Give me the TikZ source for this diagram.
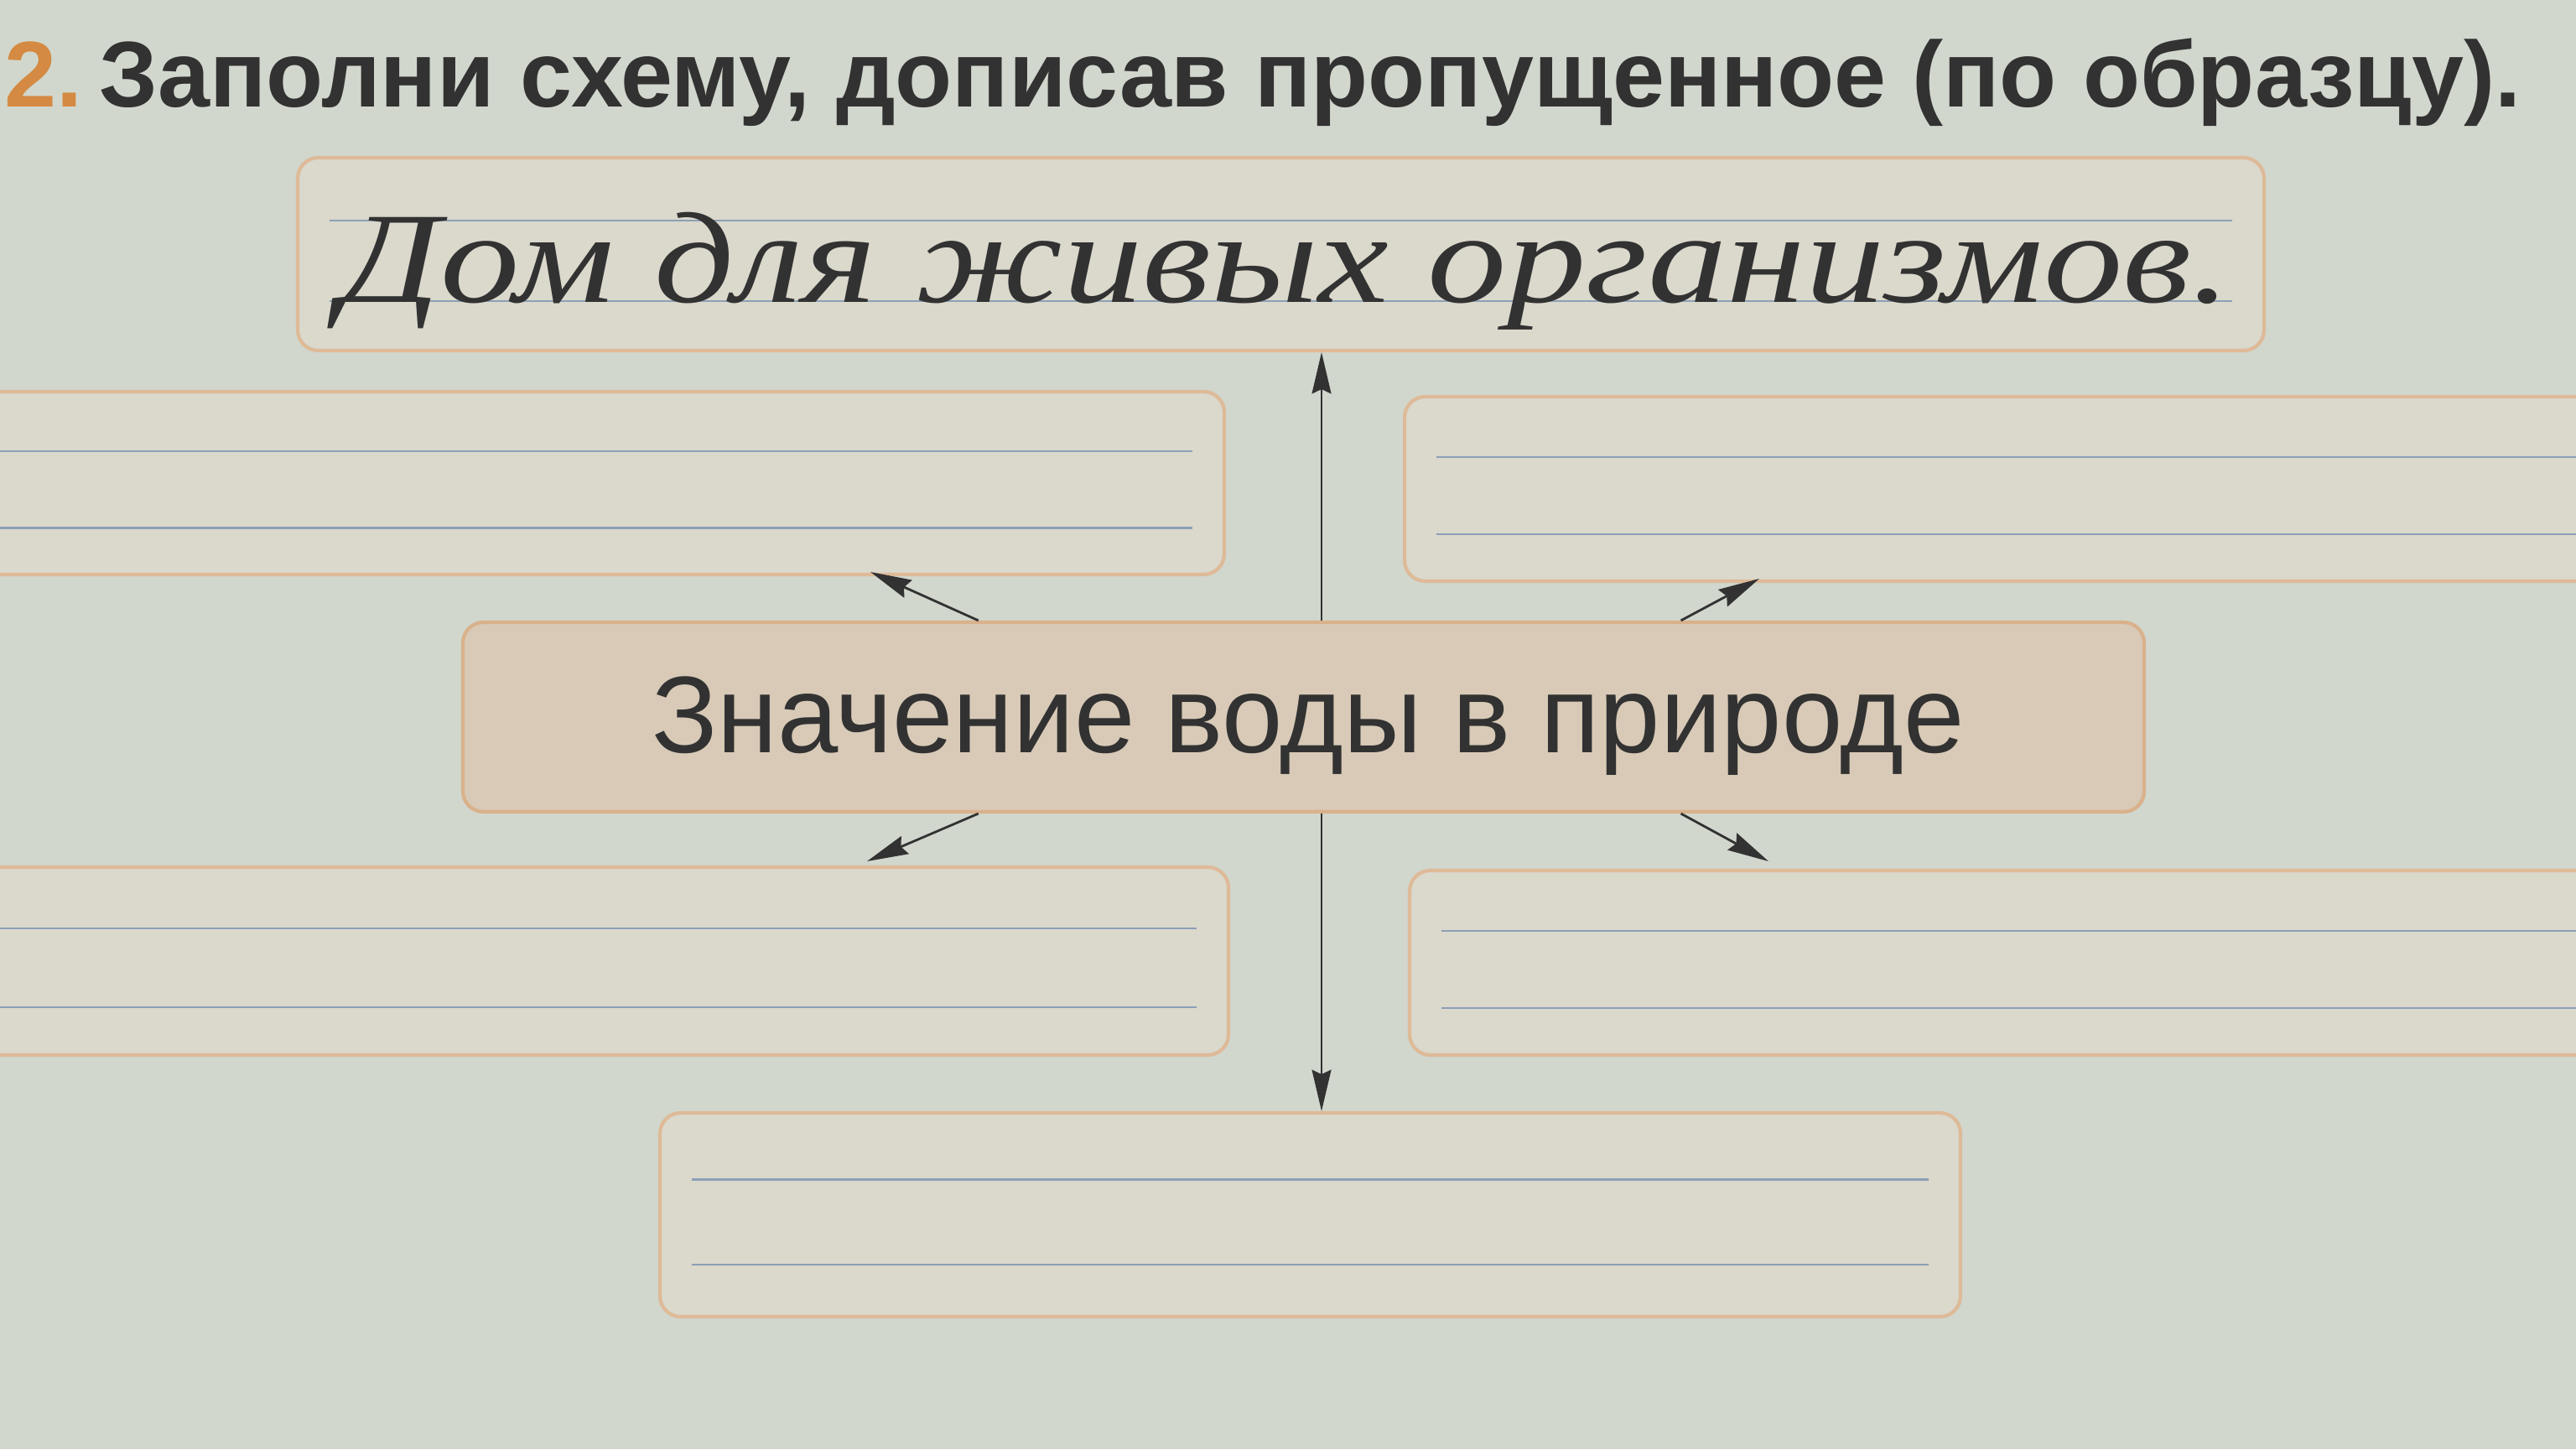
\documentclass[tikz,border=0pt]{standalone}
\usepackage{fontspec}
\setmainfont{Liberation Sans}
\newfontfamily\handfont{Liberation Serif}[FakeStretch=1.22]
\usetikzlibrary{calc}
\usetikzlibrary{arrows.meta}
\definecolor{paper}{RGB}{209,215,205}
\definecolor{boxfill}{RGB}{219,216,204}
\definecolor{boxedge}{RGB}{222,186,152}
\definecolor{mainfill}{RGB}{216,202,183}
\definecolor{ruleline}{RGB}{140,160,182}
\definecolor{ink}{RGB}{50,50,50}
\definecolor{numcol}{RGB}{212,138,66}
\tikzset{
    blank/.style = {rectangle, rounded corners=7pt, draw=boxedge, line width=1.2pt, fill=boxfill, inner sep=0},
    mainbox/.style = {rectangle, rounded corners=7pt, draw=boxedge!85!brown, line width=1.2pt, fill=mainfill, inner sep=0},
    ruled/.style = {ruleline, line width=0.7pt},
    arr/.style = {-{Stealth[length=14pt,width=6.5pt,inset=1.5pt]}, line width=0.8pt, ink},
    headfont/.style = {font=\bfseries\fontsize{31.7}{34}\selectfont, text=ink, inner sep=0},
    mainfont/.style = {font=\fontsize{37}{40}\selectfont, text=ink, inner sep=0},
    handtext/.style = {font=\handfont\itshape\fontsize{44}{48}\selectfont, text=ink, inner sep=0}
}
\begin{document}
\begin{tikzpicture}
\fill[paper] (0,0) rectangle (30.72,-17.28);
\useasboundingbox (0,0) rectangle (30.72,-17.28);
\clip (0,0) rectangle (30.72,-17.28);

% heading
\node[headfont, anchor=base west] at (1.18,-1.27) (head) {Заполни схему, дописав пропущенное (по образцу).};
\node[headfont, anchor=base east, text=numcol] at (head.base west) (num) {2.\,};

% boxes
\node[blank, minimum width=23.45cm, minimum height=2.30cm] at (15.275, -3.03) (top) {};
\node[blank, minimum width=15.10cm, minimum height=2.18cm] at ( 7.050, -5.76) (lu) {};
\node[blank, minimum width=14.75cm, minimum height=2.20cm] at (24.125, -5.83) (ru) {};
\node[mainbox, minimum width=20.05cm, minimum height=2.26cm] at (15.545, -8.55) (centre) {};
\node[blank, minimum width=15.15cm, minimum height=2.24cm] at ( 7.075,-11.46) (ld) {};
\node[blank, minimum width=14.69cm, minimum height=2.20cm] at (24.155,-11.48) (rd) {};
\node[blank, minimum width=15.51cm, minimum height=2.43cm] at (15.625,-14.485) (bt) {};

% writing lines
\foreach \b in {top,lu,ru,ld,rd,bt} {
  \draw[ruled] ($(\b.north west)!0.33!(\b.south west)+(0.4,0)$) -- ($(\b.north east)!0.33!(\b.south east)+(-0.4,0)$);
  \draw[ruled] ($(\b.north west)!0.74!(\b.south west)+(0.4,0)$) -- ($(\b.north east)!0.74!(\b.south east)+(-0.4,0)$);
}

% texts
\node[handtext, anchor=base] at (15.33,-3.60) (sample) {Дом для живых организмов.};
\node[mainfont, anchor=base] at (15.60,-8.97) (topic) {Значение воды в природе};

% arrows
\coordinate (axis) at (15.76,0);
\coordinate (ul) at (10.38,-6.82);
\coordinate (ur) at (20.98,-6.90);
\coordinate (dl) at (10.34,-10.27);
\coordinate (dr) at (21.09,-10.27);
\draw[arr] (centre.north -| axis) -- (top.south -| axis);
\draw[arr] (centre.south -| axis) -- (bt.north -| axis);
\draw[arr] ($(centre.north west)!0.307!(centre.north east)$) -- (ul);
\draw[arr] ($(centre.north west)!0.724!(centre.north east)$) -- (ur);
\draw[arr] ($(centre.south west)!0.307!(centre.south east)$) -- (dl);
\draw[arr] ($(centre.south west)!0.724!(centre.south east)$) -- (dr);

\end{tikzpicture}
\end{document}
